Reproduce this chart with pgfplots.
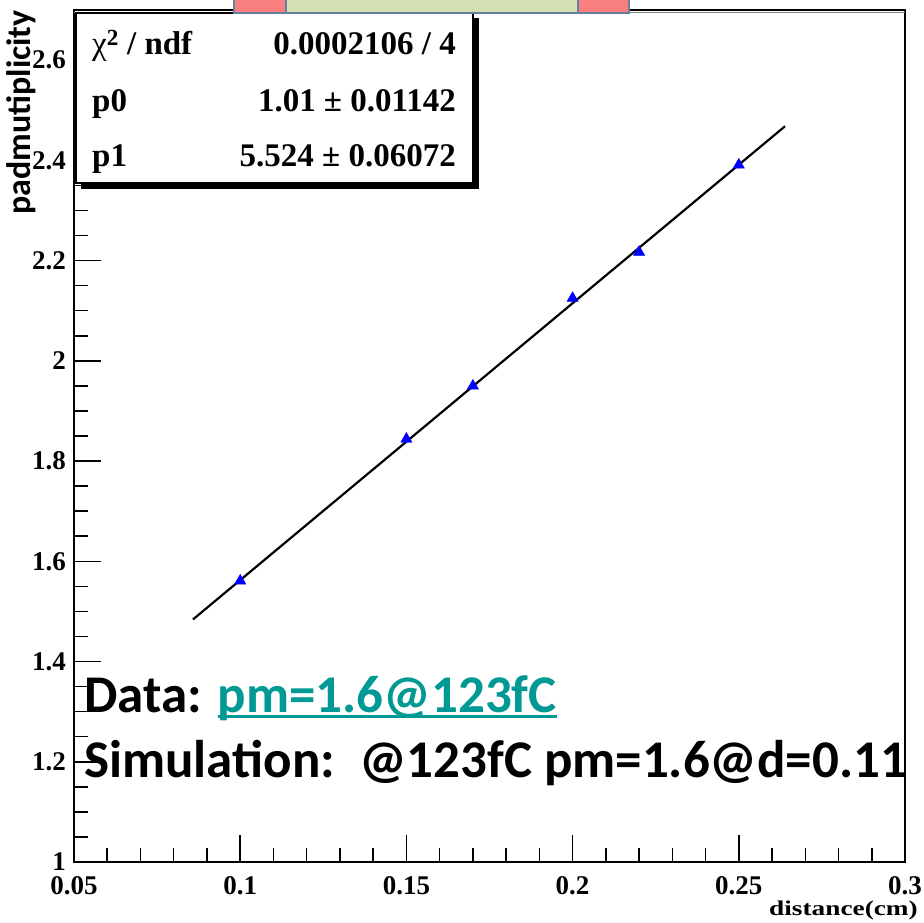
\documentclass[border=0pt]{standalone}
\usepackage{fontspec}
\setmainfont{Liberation Serif}
\newfontfamily\carlito{Carlito}
\newfontfamily\serifwide{Liberation Serif}[FakeStretch=1.3]
\usepackage{pgfplots}
\pgfplotsset{compat=1.18}
\usetikzlibrary{calc}
\definecolor{teal1}{RGB}{0,153,148}
\definecolor{pinkb}{RGB}{250,128,128}
\definecolor{greenb}{RGB}{212,224,178}
\definecolor{bordb}{RGB}{100,128,158}
\newlength\ulw
\newcommand\myul[1]{\settowidth\ulw{#1}\rlap{\rule[-6pt]{\ulw}{3pt}}#1}
\begin{document}
\begin{tikzpicture}
\begin{axis}[
  scale only axis, width=831pt, height=852pt,
  xmin=0.05, xmax=0.3, ymin=1, ymax=2.7,
  axis line style={line width=2pt},
  tick align=inside, tick pos=left,
  xtick={0.05,0.1,0.15,0.2,0.25,0.3},
  xticklabels={0.05,0.1,0.15,0.2,0.25,0.3},
  ytick={1,1.2,1.4,1.6,1.8,2,2.2,2.4,2.6},
  yticklabels={1,1.2,1.4,1.6,1.8,2,2.2,2.4,2.6},
  minor x tick num=4, minor y tick num=3,
  tick style={line width=1.5pt, black},
  major tick length=27pt, minor tick length=14pt,
  ticklabel style={font=\fontsize{27}{27}\selectfont\bfseries, inner sep=0pt},
  xticklabel style={yshift=-14pt},
  yticklabel style={xshift=-8pt},
]
\addplot[black, line width=2.2pt] coordinates {(0.0858,1.484) (0.2639,2.468)};
\addplot[only marks, mark=triangle*, mark size=6.5pt, blue, mark options={fill=blue, draw=blue}]
  coordinates {(0.1,1.561) (0.15,1.844) (0.17,1.950) (0.2,2.125) (0.22,2.217) (0.25,2.391)};
\coordinate (O) at (rel axis cs:0,0);
\end{axis}
\begin{scope}[shift={($(O)+(-74pt,862pt)$)}, x=1pt, y=-1pt]
  \draw[gray, line width=1pt] (74,13) -- (905,13);
  % stat box
  \fill[black] (81,18) rectangle (479,189);
  \filldraw[fill=white, draw=black, line width=2pt] (76,13) rectangle (473,183);
  \begin{scope}[every node/.style={inner sep=0pt, font=\fontsize{33}{33}\selectfont\bfseries}]
    \node[anchor=base west] at (92,55) {{\mdseries χ}\textsuperscript{2} / ndf};
    \node[anchor=base east] at (456,55) {0.0002106 / 4};
    \node[anchor=base west] at (92,112) {p0};
    \node[anchor=base east] at (456,112) {1.01 ± 0.01142};
    \node[anchor=base west] at (92,167) {p1};
    \node[anchor=base east] at (456,167) {5.524 ± 0.06072};
  \end{scope}
  % colored bar at top
  \filldraw[fill=pinkb, draw=bordb, line width=1.5pt] (234,-3) rectangle (286,13);
  \filldraw[fill=greenb, draw=bordb, line width=1.5pt] (286,-3) rectangle (578,13);
  \filldraw[fill=pinkb, draw=bordb, line width=1.5pt] (578,-3) rectangle (629,13);
  % overlay texts
  \node[anchor=base west, inner sep=0pt, font=\carlito\bfseries\fontsize{53}{53}\selectfont] at (84,712)
    {Data: \textcolor{teal1}{\myul{pm=1.6@123fC}}};
  \node[anchor=base west, inner sep=0pt, font=\carlito\bfseries\fontsize{53}{53}\selectfont] at (84,777)
    {Simulation:\ \ @123fC pm=1.6@d=0.11};
  % axis labels
  \node[rotate=90, anchor=base east, inner sep=0pt, font=\carlito\bfseries\fontsize{34}{34}\selectfont] at (30,10) {padmutiplicity};
  \node[anchor=base east, inner sep=0pt, font=\serifwide\bfseries\fontsize{21}{21}\selectfont] at (918,915) {distance(cm)};
  \pgfresetboundingbox
  \path[use as bounding box] (0,0) rectangle (924,922);
\end{scope}
\end{tikzpicture}
\end{document}
